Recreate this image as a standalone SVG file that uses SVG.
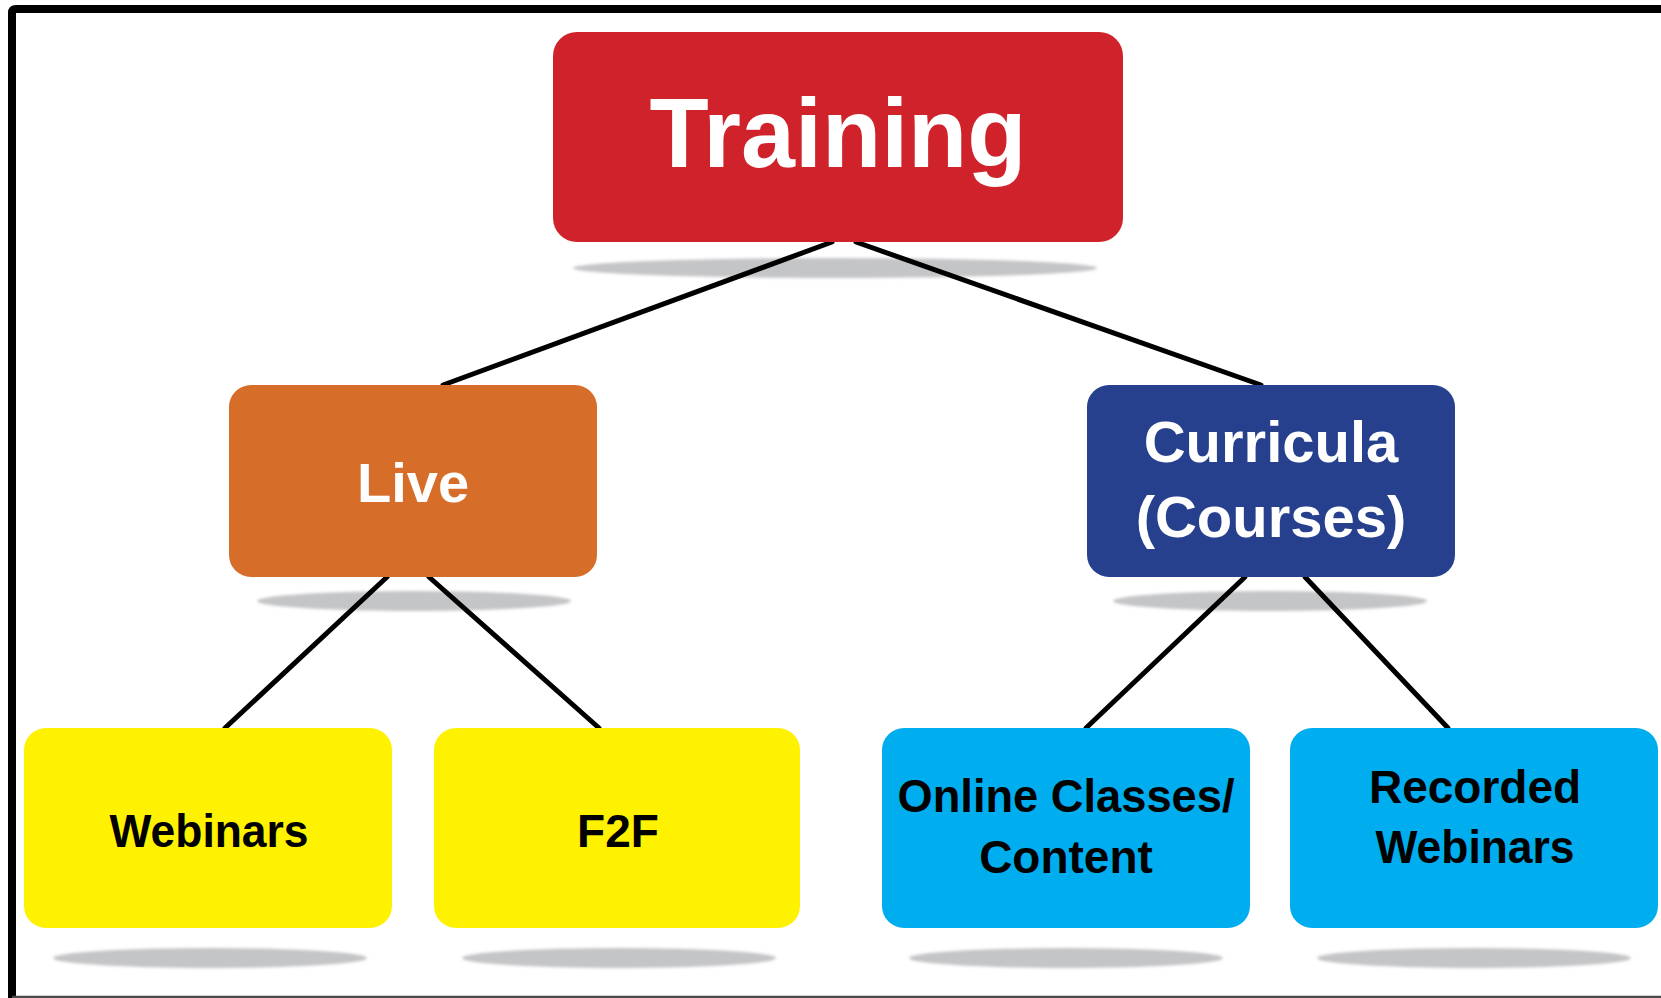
<svg xmlns="http://www.w3.org/2000/svg" width="1661" height="998" viewBox="0 0 1661 998">
  <style>
    .lbl { font-family: "Liberation Sans", Arial, sans-serif; font-weight: bold; text-anchor: middle; }
    .w { fill: #ffffff; }
    .k { fill: #000000; }
    .shadow { fill: #c4c5c7; filter: url(#soft); }
    .conn { stroke: #000000; stroke-width: 5; stroke-linecap: round; fill: none; }
  </style>
  <defs>
    <filter id="soft" x="-10%" y="-100%" width="120%" height="300%">
      <feGaussianBlur stdDeviation="1.5"/>
    </filter>
  </defs>
  <rect x="0" y="0" width="1661" height="998" fill="#ffffff"/>
  <path d="M12,998 V13 Q12,9 16,9 H1661" fill="none" stroke="#000000" stroke-width="8"/>
  <line x1="12" y1="997" x2="1661" y2="997" stroke="#4a4a4a" stroke-width="2.5"/>

  <g id="shadows">
    <ellipse class="shadow" cx="835" cy="268" rx="262" ry="10"/>
    <ellipse class="shadow" cx="414" cy="601" rx="157" ry="10"/>
    <ellipse class="shadow" cx="1270" cy="601" rx="157" ry="10"/>
    <ellipse class="shadow" cx="210" cy="958" rx="157" ry="10"/>
    <ellipse class="shadow" cx="619" cy="958" rx="157" ry="10"/>
    <ellipse class="shadow" cx="1066" cy="958" rx="157" ry="10"/>
    <ellipse class="shadow" cx="1474" cy="958" rx="157" ry="10"/>
  </g>

  <g id="connectors">
    <line class="conn" x1="832" y1="242" x2="443" y2="385"/>
    <line class="conn" x1="856" y1="242" x2="1261" y2="385"/>
    <line class="conn" x1="387" y1="577" x2="225" y2="728"/>
    <line class="conn" x1="429" y1="577" x2="599" y2="728"/>
    <line class="conn" x1="1245" y1="577" x2="1086" y2="728"/>
    <line class="conn" x1="1305" y1="577" x2="1448" y2="728"/>
  </g>

  <g id="training">
    <rect x="553" y="32" width="570" height="210" rx="24" fill="#d0222b"/>
    <text class="lbl w" x="838" y="167" font-size="98" textLength="377" lengthAdjust="spacingAndGlyphs">Training</text>
  </g>
  <g id="live">
    <rect x="229" y="385" width="368" height="192" rx="22" fill="#d66e2a"/>
    <text class="lbl w" x="413" y="502" font-size="56">Live</text>
  </g>
  <g id="curricula">
    <rect x="1087" y="385" width="368" height="192" rx="22" fill="#27408e"/>
    <text class="lbl w" x="1271" y="462" font-size="58">Curricula</text>
    <text class="lbl w" x="1271" y="537" font-size="58">(Courses)</text>
  </g>
  <g id="webinars">
    <rect x="24" y="728" width="368" height="200" rx="22" fill="#fff200"/>
    <text class="lbl k" x="209" y="847" font-size="46" textLength="199" lengthAdjust="spacingAndGlyphs">Webinars</text>
  </g>
  <g id="f2f">
    <rect x="434" y="728" width="366" height="200" rx="22" fill="#fff200"/>
    <text class="lbl k" x="618" y="847" font-size="46">F2F</text>
  </g>
  <g id="online">
    <rect x="882" y="728" width="368" height="200" rx="22" fill="#00aeef"/>
    <text class="lbl k" x="1066" y="812" font-size="46" textLength="337" lengthAdjust="spacingAndGlyphs">Online Classes/</text>
    <text class="lbl k" x="1066" y="873" font-size="46">Content</text>
  </g>
  <g id="recorded">
    <rect x="1290" y="728" width="368" height="200" rx="22" fill="#00aeef"/>
    <text class="lbl k" x="1475" y="803" font-size="46">Recorded</text>
    <text class="lbl k" x="1475" y="863" font-size="46" textLength="199" lengthAdjust="spacingAndGlyphs">Webinars</text>
  </g>
</svg>
